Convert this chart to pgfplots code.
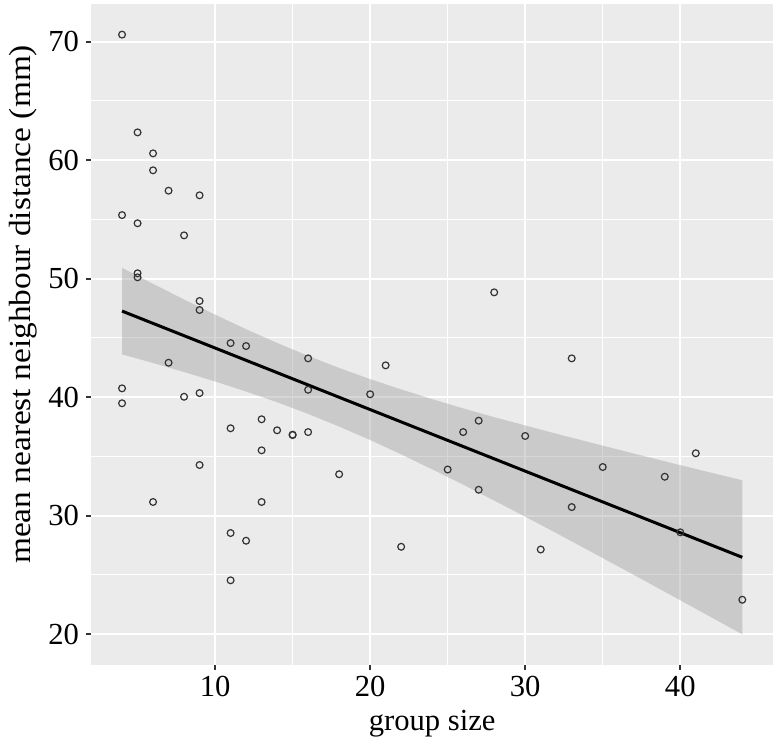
\documentclass[border=0pt]{standalone}
\usepackage{fontspec}
\setmainfont{Liberation Serif}
\usepackage{graphicx}
\usepackage{pgfplots}
\pgfplotsset{compat=1.18}

\definecolor{panelgray}{RGB}{235,235,235}
\definecolor{tickgray}{RGB}{51,51,51}
\definecolor{ribbongray}{RGB}{153,153,153}

\begin{document}
\begin{tikzpicture}
\begin{axis}[
  scale only axis,
  width=341pt, height=330pt,
  xmin=2, xmax=46, ymin=17.44, ymax=73.16,
  xtick={10,20,30,40}, ytick={20,30,40,50,60,70},
  minor tick num=1,
  axis background/.style={fill=panelgray},
  axis line style={draw=none},
  grid=both,
  major grid style={white, line width=1pt},
  minor grid style={white, line width=0.5pt},
  tick align=outside,
  major tick length=2.5pt, minor tick length=0pt,
  tick style={tickgray, line width=1pt},
  xtick pos=bottom, ytick pos=left,
  /pgf/number format/assume math mode=true,
  tick label style={font=\fontsize{15.3}{18}\selectfont, black},
  every axis x label/.style={at={(rel axis cs:0.5,0)}, anchor=base, yshift=-33.2pt,
    font=\fontsize{15.3}{18}\selectfont},
  every axis y label/.style={at={(rel axis cs:0,0.5)}, anchor=base, xshift=-30.5pt, yshift=15pt,
    rotate=90, font=\fontsize{15.3}{18}\selectfont},
  xlabel={group size},
  ylabel={\scalebox{1.09}[1]{mean nearest neighbour distance (mm)}},
  clip=false,
]

% observations
\addplot[only marks, mark=o, mark size=1.7pt, mark options={tickgray, line width=0.6pt}]
  coordinates {
  (4,70.6) (5,62.35) (6,60.58) (6,59.15) (7,57.43) (9,57.04) (4,55.37) (5,54.68)
  (8,53.66) (5,50.46) (5,50.12) (9,48.12) (9,47.36) (11,44.57) (12,44.32)
  (16,43.28) (7,42.91) (16,40.63) (4,40.75) (4,39.49) (8,40.04) (9,40.35)
  (13,38.14) (11,37.38) (14,37.21) (15,36.81) (15,36.84) (16,37.06) (13,35.52)
  (9,34.28) (6,31.16) (13,31.16) (11,28.54) (12,27.89) (11,24.55)
  (28,48.85) (21,42.69) (20,40.25) (27,38.02) (26,37.06) (30,36.73) (25,33.9)
  (18,33.5) (27,32.19) (22,27.38) (31,27.15) (33,43.28) (41,35.27) (35,34.11)
  (39,33.29) (33,30.73) (40,28.6) (44,22.91)
  };

% confidence band
\addplot[draw=none, fill=ribbongray, fill opacity=0.4]
  coordinates {
  (4,50.92) (6,49.57) (8,48.25) (10,46.97) (12,45.74) (14,44.58) (16,43.49)
  (18,42.47) (20,41.53) (22,40.66) (24,39.84) (26,39.06) (28,38.32) (30,37.62)
  (32,36.92) (34,36.25) (36,35.58) (38,34.92) (40,34.27) (42,33.63) (44,32.99)
  (44,19.99) (42,21.43) (40,22.87) (38,24.30) (36,25.72) (34,27.13) (32,28.54)
  (30,29.92) (28,31.28) (26,32.62) (24,33.92) (22,35.18) (20,36.39) (18,37.53)
  (16,38.59) (14,39.58) (12,40.48) (10,41.33) (8,42.13) (6,42.89) (4,43.62)
  } -- cycle;

% fitted line
\addplot[black, line width=1.5pt] coordinates {(4,47.27) (44,26.49)};

\end{axis}
\path (current axis.south west) ++(-45.5pt,-36.35pt);
\path (current axis.north east) ++(2.35pt,2.15pt);
\end{tikzpicture}
\end{document}
